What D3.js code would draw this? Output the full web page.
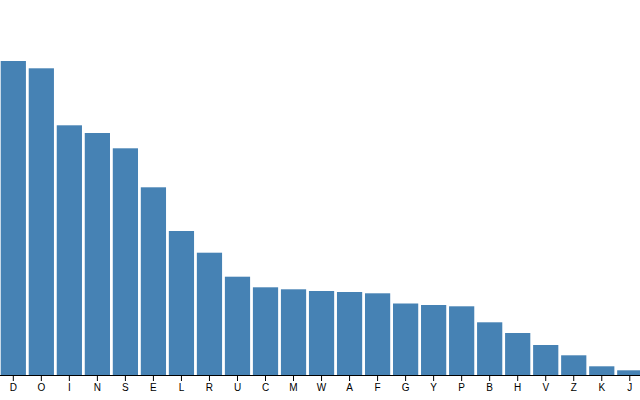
<!DOCTYPE html>
<html>
<head>
<meta charset="utf-8">
<script src="https://cdn.jsdelivr.net/npm/d3@7"></script>
<style>
  body { margin: 0; background: #fff; }
  svg { display: block; }
</style>
</head>
<body>
<svg></svg>
<script>
const width = 640;
const height = 400;

// letters, sorted by value
const letters = ["D", "O", "I", "N", "S", "E", "L", "R", "U", "C", "M", "W",
  "A", "F", "G", "Y", "P", "B", "H", "V", "Z", "K", "J"];
const values = [314, 306.7, 249.7, 242, 226.7, 187.7, 144, 122.3, 98.3, 87.7,
  85.7, 84, 83, 81.7, 71.5, 70, 68.7, 52.7, 42, 30, 19.7, 8.7, 4.7];

const margin = { top: 61, right: -5.2, bottom: 25, left: -2.1 };

//creating svg
const svg = d3.select("svg").attr("width", width).attr("height", height);

//scales
const x = d3
  .scaleBand()
  .domain(letters)
  .range([margin.left, width - margin.right])
  .padding(0.1);

const y = d3
  .scaleLinear()
  .domain([0, d3.max(values)])
  .range([height - margin.bottom, margin.top]);

//bars
svg
  .append("g")
  .attr("fill", "steelblue")
  .selectAll("rect")
  .data(letters)
  .enter()
  .append("rect")
  .attr("x", (d) => x(d))
  .attr("y", (d, i) => y(values[i]))
  .attr("width", x.bandwidth())
  .attr("height", (d, i) => y(0) - y(values[i]));

//x axis
svg
  .append("g")
  .attr("transform", `translate(0,${height - margin.bottom})`)
  .call(d3.axisBottom(x).tickSizeOuter(0));
</script>
</body>
</html>
